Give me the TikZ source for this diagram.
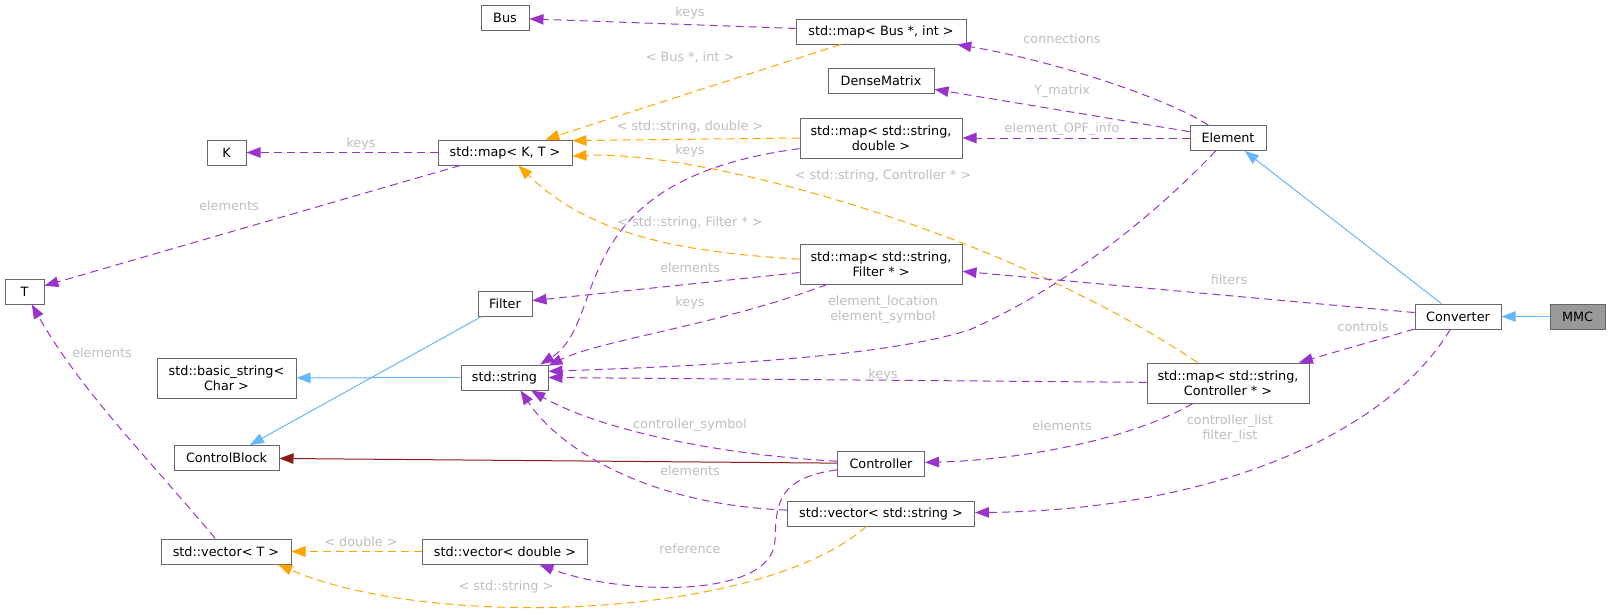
\documentclass[tikz,border=0pt]{standalone}
\usepackage{fontspec}
\setmainfont{DejaVu Sans}
\usetikzlibrary{arrows.meta}
\definecolor{edgepurple}{HTML}{9A32CD}
\definecolor{edgeorange}{HTML}{FFA500}
\definecolor{edgeblue}{HTML}{63B8FF}
\definecolor{edgered}{HTML}{8B1A1A}
\definecolor{boxgray}{HTML}{666666}
\definecolor{mmcgray}{HTML}{999999}
\definecolor{lblgray}{HTML}{BEBEBE}
\newcommand{\dxfont}{\fontsize{12.8}{15}\selectfont}

\begin{document}
\begin{tikzpicture}[x=1pt,y=-1pt,
  cls/.style={draw=boxgray, line width=1pt, fill=white, inner sep=0pt, minimum height=25pt, align=center, font=\dxfont},
  cls2/.style={cls, minimum height=40pt},
  lbl/.style={text=lblgray, inner sep=0pt, align=center, font=\dxfont},
  usage/.style={edgepurple, line width=1pt, dash pattern=on 8pt off 5pt, -{Triangle[length=14pt,width=10.5pt]}},
  tmpl/.style={usage, edgeorange},
  inh/.style={edgeblue, line width=1pt, -{Triangle[length=14pt,width=10.5pt]}},
  prot/.style={edgered, line width=1pt, -{Triangle[length=14pt,width=10.5pt]}}]
\useasboundingbox (0,0) rectangle (1611,614);
\node[cls, minimum width=48pt] (bus) at (505,18) {Bus};
\node[cls, minimum width=170pt] (mapbus) at (881,31.5) {std::map< Bus *, int >};
\node[cls, minimum width=106pt] (dense) at (881,80.5) {DenseMatrix};
\node[cls2, minimum width=162pt] (mapdbl) at (881,138) {std::map< std::string,\\double >};
\node[cls2, minimum width=162pt] (mapflt) at (881,264) {std::map< std::string,\\Filter * >};
\node[cls, minimum width=39pt] (k) at (226.5,152.5) {K};
\node[cls, minimum width=134pt] (mapkt) at (505,152.5) {std::map< K, T >};
\node[cls, minimum width=39pt] (t) at (24.5,291.5) {T};
\node[cls, minimum width=54pt] (filter) at (505,303.5) {Filter};
\node[cls, minimum width=76pt] (element) at (1228,138) {Element};
\node[cls, minimum width=86pt] (converter) at (1458,316.5) {Converter};
\node[cls, minimum width=55pt, fill=mmcgray] (mmc) at (1577.5,316.5) {MMC};
\node[cls2, minimum width=162pt] (mapctl) at (1228,383) {std::map< std::string,\\Controller * >};
\node[cls2, minimum width=139pt] (basicstr) at (226.5,378) {std::basic\_string<\\Char >};
\node[cls, minimum width=87pt] (string) at (504.5,377.5) {std::string};
\node[cls, minimum width=105pt] (ctlblock) at (226.5,458) {ControlBlock};
\node[cls, minimum width=130pt] (vect) at (226,551.5) {std::vector< T >};
\node[cls, minimum width=165pt] (vecdbl) at (505,551.5) {std::vector< double >};
\node[cls, minimum width=87pt] (controller) at (881,463.5) {Controller};
\node[cls, minimum width=187pt] (vecstr) at (881,513.5) {std::vector< std::string >};
\draw[usage] (mapbus) -- (bus);
\draw[tmpl] (mapbus) -- (mapkt);
\draw[usage] (element) .. controls (1170,100) and (1060,62) .. (mapbus);
\draw[usage] (element) -- (dense);
\draw[usage] (element) -- (mapdbl);
\draw[tmpl] (mapdbl.west) -- (mapkt.10);
\draw[tmpl] (mapctl) .. controls (1000,230) and (700,150) .. (mapkt.-3);
\draw[tmpl] (mapflt) .. controls (680,252) and (590,235) .. (mapkt);
\draw[usage] (mapkt) -- (k);
\draw[usage] (mapkt) -- (t);
\draw[usage] (mapdbl) .. controls (560,180) and (610,320) .. (string.20);
\draw[usage] (mapflt) -- (filter);
\draw[usage] (mapflt) .. controls (720,325) and (600,340) .. (string.15);
\draw[usage] (element) .. controls (1150,220) and (1060,290) .. (969,330) .. controls (880,358) and (700,366) .. (string.8);
\draw[usage] (converter) -- (mapflt);
\draw[inh] (converter) -- (element);
\draw[inh] (mmc) -- (converter);
\draw[usage] (converter) -- (mapctl);
\draw[usage] (converter) .. controls (1390,430) and (1220,510) .. (vecstr);
\draw[usage] (mapctl) -- (string.east);
\draw[usage] (mapctl) .. controls (1130,440) and (1020,460) .. (controller);
\draw[inh] (string) -- (basicstr);
\draw[inh] (filter) -- (ctlblock);
\draw[prot] (controller) -- (ctlblock);
\draw[usage] (controller) .. controls (720,455) and (600,430) .. (string.-26);
\draw[usage] (vecstr) .. controls (650,505) and (560,450) .. (string.-39);
\draw[usage] (controller) .. controls (780,478) and (776,500) .. (775,540) .. controls (773,600) and (620,595) .. (vecdbl);
\draw[tmpl] (vecdbl) -- (vect);
\draw[tmpl] (vecstr) .. controls (760,620) and (430,630) .. (vect.-14);
\draw[usage] (vect) .. controls (150,460) and (80,390) .. (t);
\node[lbl] (lkeysbus) at (690,13) {keys};
\node[lbl] (ltbus) at (690,57) {< Bus *, int >};
\node[lbl] (lconn) at (1062,39) {connections};
\node[lbl] (lymat) at (1062,91) {Y\_matrix};
\node[lbl] (lopf) at (1062,129) {element\_OPF\_info};
\node[lbl] (ltdbl) at (690,127) {< std::string, double >};
\node[lbl] (lkeysdbl) at (690,151) {keys};
\node[lbl] (ltctl) at (883,176) {< std::string, Controller * >};
\node[lbl] (ltflt) at (690,223) {< std::string, Filter * >};
\node[lbl] (lelemflt) at (690,268) {elements};
\node[lbl] (lkeysflt) at (690,303) {keys};
\node[lbl] (lloc) at (883,310) {element\_location\\element\_symbol};
\node[lbl] (lkeyskt) at (361,144) {keys};
\node[lbl] (lelemkt) at (229,206) {elements};
\node[lbl] (lfilters) at (1229,280) {filters};
\node[lbl] (lcontrols) at (1363,327) {controls};
\node[lbl] (lkeysctl) at (883,375) {keys};
\node[lbl] (lelemctl) at (1062,426) {elements};
\node[lbl] (llist) at (1230,429) {controller\_list\\filter\_list};
\node[lbl] (lsym) at (690,425) {controller\_symbol};
\node[lbl] (lelemstr) at (690,471) {elements};
\node[lbl] (lref) at (690,549) {reference};
\node[lbl] (ltdouble) at (361,542) {< double >};
\node[lbl] (ltstr) at (506,587) {< std::string >};
\node[lbl] (lelemt) at (102,353) {elements};
\end{tikzpicture}
\end{document}
